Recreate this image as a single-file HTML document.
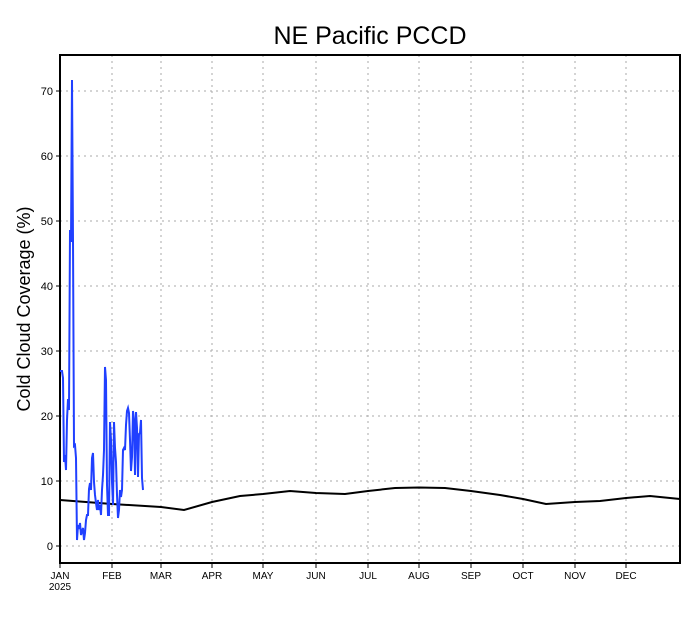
<!DOCTYPE html>
<html><head><meta charset="utf-8"><style>
body{margin:0;background:#fff;}
svg{display:block;font-family:"Liberation Sans",sans-serif;}
</style></head><body>
<svg width="690" height="618" viewBox="0 0 690 618">
<rect width="690" height="618" fill="#fff"/>
<text x="370" y="44" font-size="25" text-anchor="middle" fill="#000">NE Pacific PCCD</text>
<g stroke="#aaa" stroke-width="1" stroke-dasharray="2,4">
<line x1="60" x2="680" y1="546" y2="546"/><line x1="60" x2="680" y1="481" y2="481"/>
<line x1="60" x2="680" y1="416" y2="416"/><line x1="60" x2="680" y1="351" y2="351"/>
<line x1="60" x2="680" y1="286" y2="286"/><line x1="60" x2="680" y1="221" y2="221"/>
<line x1="60" x2="680" y1="156" y2="156"/><line x1="60" x2="680" y1="91" y2="91"/>
<line y1="55" y2="563" x1="112" x2="112"/><line y1="55" y2="563" x1="161" x2="161"/>
<line y1="55" y2="563" x1="212" x2="212"/><line y1="55" y2="563" x1="263" x2="263"/>
<line y1="55" y2="563" x1="316" x2="316"/><line y1="55" y2="563" x1="368" x2="368"/>
<line y1="55" y2="563" x1="419" x2="419"/><line y1="55" y2="563" x1="471" x2="471"/>
<line y1="55" y2="563" x1="523" x2="523"/><line y1="55" y2="563" x1="575" x2="575"/>
<line y1="55" y2="563" x1="626" x2="626"/>
</g>
<rect x="60" y="55" width="620" height="508" fill="none" stroke="#000" stroke-width="2"/>
<g stroke="#000" stroke-width="1">
<line x1="56" x2="60" y1="546" y2="546"/><line x1="56" x2="60" y1="481" y2="481"/>
<line x1="56" x2="60" y1="416" y2="416"/><line x1="56" x2="60" y1="351" y2="351"/>
<line x1="56" x2="60" y1="286" y2="286"/><line x1="56" x2="60" y1="221" y2="221"/>
<line x1="56" x2="60" y1="156" y2="156"/><line x1="56" x2="60" y1="91" y2="91"/>
<line x1="60" x2="60" y1="563" y2="568"/><line x1="112" x2="112" y1="563" y2="568"/>
<line x1="161" x2="161" y1="563" y2="568"/><line x1="212" x2="212" y1="563" y2="568"/>
<line x1="263" x2="263" y1="563" y2="568"/><line x1="316" x2="316" y1="563" y2="568"/>
<line x1="368" x2="368" y1="563" y2="568"/><line x1="419" x2="419" y1="563" y2="568"/>
<line x1="471" x2="471" y1="563" y2="568"/><line x1="523" x2="523" y1="563" y2="568"/>
<line x1="575" x2="575" y1="563" y2="568"/><line x1="626" x2="626" y1="563" y2="568"/>
</g>
<g font-size="11" text-anchor="end" fill="#000">
<text x="53" y="550">0</text><text x="53" y="485">10</text><text x="53" y="420">20</text>
<text x="53" y="355">30</text><text x="53" y="290">40</text><text x="53" y="225">50</text>
<text x="53" y="160">60</text><text x="53" y="95">70</text>
</g>
<g font-size="10" text-anchor="middle" fill="#000">
<text x="60" y="579">JAN</text><text x="60" y="590">2025</text>
<text x="112" y="579">FEB</text><text x="161" y="579">MAR</text><text x="212" y="579">APR</text>
<text x="263" y="579">MAY</text><text x="316" y="579">JUN</text><text x="368" y="579">JUL</text>
<text x="419" y="579">AUG</text><text x="471" y="579">SEP</text><text x="523" y="579">OCT</text>
<text x="575" y="579">NOV</text><text x="626" y="579">DEC</text>
</g>
<text transform="translate(30,309) rotate(-90)" font-size="18" text-anchor="middle" fill="#000">Cold Cloud Coverage (%)</text>
<path d="M60,500 L112,504 L161,507 L184,510 L212,502 L240,496 L263,494 L290,491 L316,493 L345,494 L368,491 L395,488 L419,487.5 L445,488 L471,491 L500,495 L523,499 L546,504 L575,502 L600,501 L626,498 L650,496 L680,499" fill="none" stroke="#000" stroke-width="2"/>
<polyline fill="none" stroke="#2040ff" stroke-width="2" points="60,371 62,371 63,378 64,462 65,455 66,470 67,420 68,399 69,410 70,230 71,242 72,80 73,240 74,446 75,445 76,458 77,540 78,525 79,529 80,523 81,535 82,531 83,528 84,540 85,533 86,520 87,515 88,515 89,489 90,483 91,490 92,458 93,453 94,482 95,495 96,503 97,510 98,500 99,510 100,505 101,515 102,490 103,475 104,450 105,367 106,380 107,485 108,515 109,515 110,422 111,440 112,482 113,505 114,422 115,448 116,462 117,495 118,518 119,510 120,490 121,497 122,490 123,450 124,448 125,450 126,425 127,411 128,408 129,413 130,440 131,471 132,457 133,411 134,420 135,475 136,412 137,428 138,477 139,434 140,433 141,420 142,478 143,490"/>
</svg>
</body></html>
